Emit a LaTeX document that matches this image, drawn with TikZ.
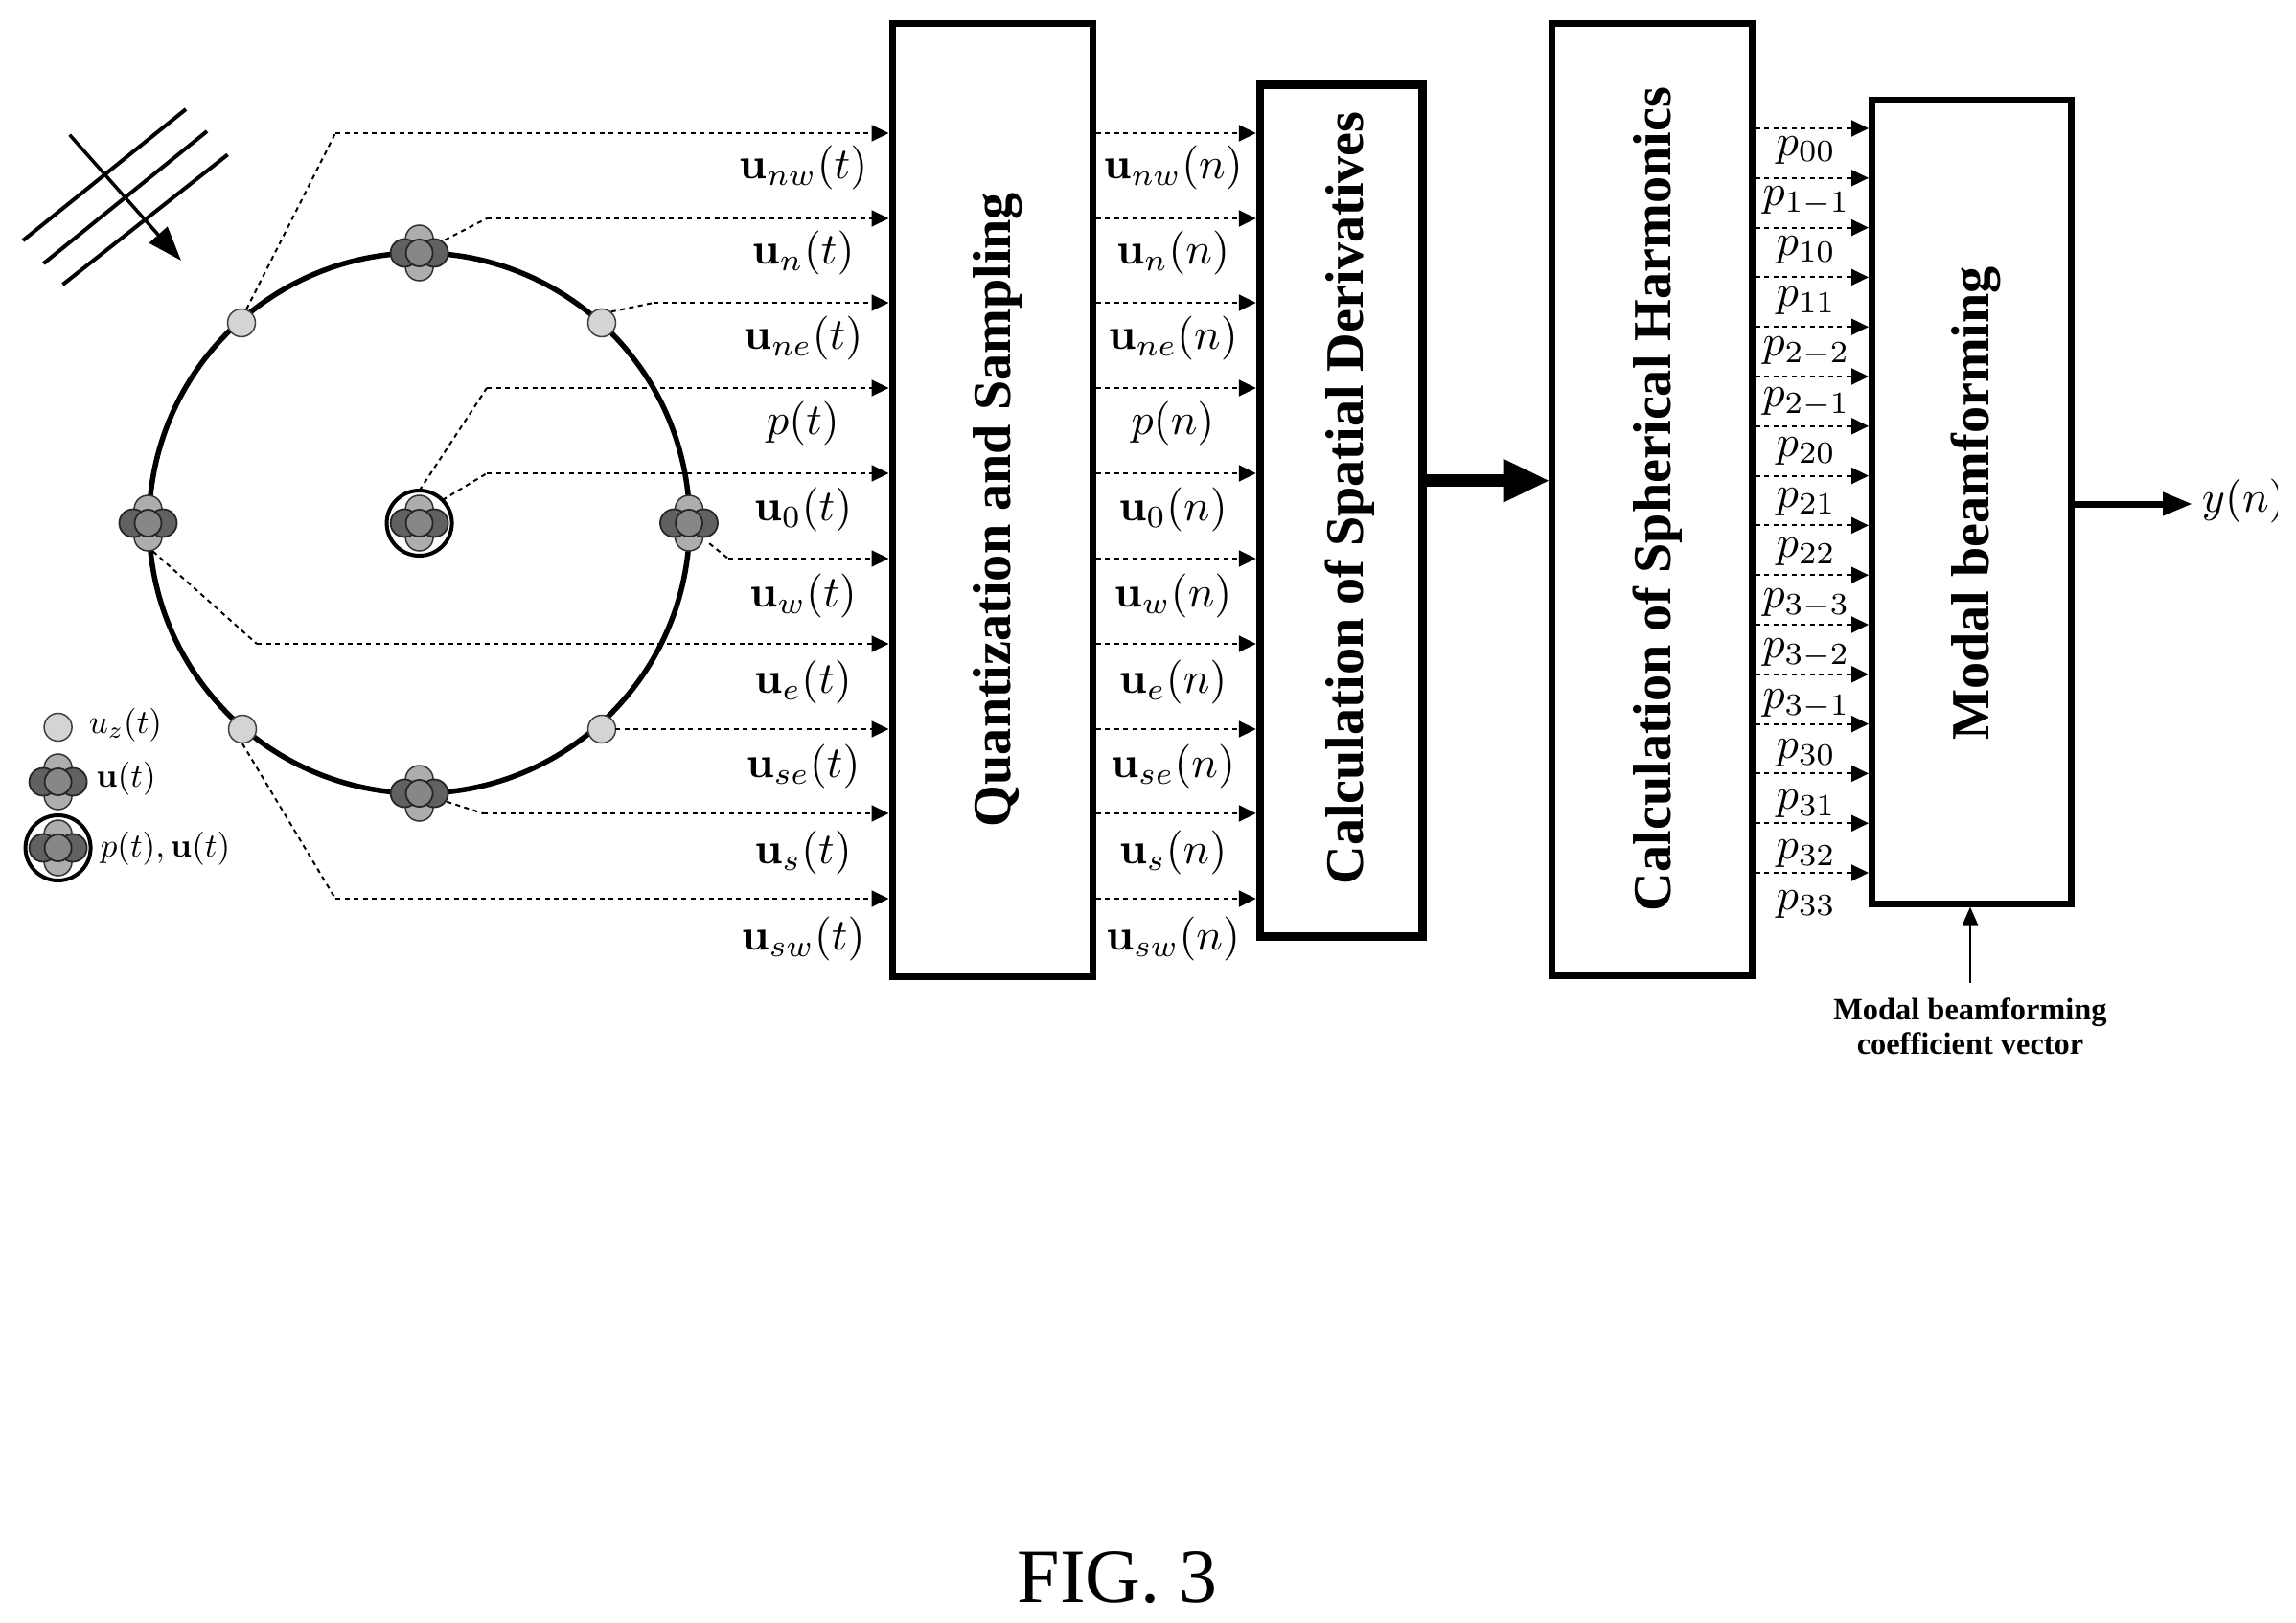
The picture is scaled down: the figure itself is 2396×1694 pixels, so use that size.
\RequirePackage{fix-cm}
\documentclass[tikz,border=0pt]{standalone}
\usepackage[no-math]{fontspec}
\usepackage{amsmath}
\usetikzlibrary{arrows.meta,calc}
\newfontfamily\timesf{Liberation Serif}
\newcommand{\blk}{\timesf\bfseries\fontsize{56.2}{60}\selectfont}
\newcommand{\sml}{\timesf\bfseries\fontsize{32.4}{36}\selectfont}
\tikzset{
  blockbox/.style={draw=black,line width=7pt,rectangle,inner sep=0pt,fill=white},
  sig/.style={line width=2pt,dash pattern=on 5pt off 4.5pt,-{Triangle[length=18pt,width=17pt]}},
  sigb/.style={line width=2pt,dash pattern=on 5pt off 4.5pt},
  txt/.style={anchor=base,inner sep=0pt,outer sep=0pt},
  lbl/.style={txt,scale=4.6},
  lgd/.style={txt,scale=3.5},
  vtxt/.style={anchor=base,rotate=90,inner sep=0pt,outer sep=0pt},
  micz/.style={circle,draw=black!75,line width=1.5pt,fill=black!17,minimum size=29pt,inner sep=0pt},
  holder/.style={circle,minimum size=60pt,inner sep=0pt,outer sep=0pt},
  ringnode/.style={circle,draw=black,line width=4pt,minimum size=68pt,inner sep=0pt,outer sep=0pt},
  petalA/.style={draw=black!80,line width=1.5pt,fill=black!32},
  petalB/.style={draw=black!85,line width=1.8pt,fill=black!62},
  petalC/.style={draw=black!85,line width=1.8pt,fill=black!47},
}
% cluster of four petals and a centre, with a named holder node
\newcommand{\micro}[3]{%
  \draw[petalA] (#2,#3-14.5) circle (14.5);
  \draw[petalA] (#2,#3+14.5) circle (14.5);
  \draw[petalB] (#2-15.5,#3) circle (14.5);
  \draw[petalB] (#2+15.5,#3) circle (14.5);
  \draw[petalC] (#2,#3) circle (14);
  \node[holder] (#1) at (#2,#3) {};
}
\begin{document}
\begin{tikzpicture}[x=1pt,y=-1pt]
\useasboundingbox (0,0) rectangle (2396,1694);
\fill[white] (0,0) rectangle (2396,1694);

% wave fronts
\coordinate (wa1) at (194,114); \coordinate (wa2) at (24,251);
\coordinate (wb1) at (216,137); \coordinate (wb2) at (45.5,275);
\coordinate (wc1) at (237.6,161.4); \coordinate (wc2) at (65.5,297);
\coordinate (da) at (72.7,140.7); \coordinate (db) at (189,272);
\draw[line width=4pt] (wa1) -- (wa2);
\draw[line width=4pt] (wb1) -- (wb2);
\draw[line width=4pt] (wc1) -- (wc2);
\draw[line width=3.5pt,-{Triangle[length=36pt,width=25pt]}] (da) -- (db);

% array circle
\node[circle,draw=black,line width=5.5pt,minimum size=564pt,inner sep=0pt] (ring) at (437.6,546) {};

% sensors
\micro{cn}{437.6}{264}
\micro{cs}{437.6}{828}
\micro{cw}{154.5}{546}
\micro{ce}{719}{546}
\micro{cc}{437.6}{546}
\node[ringnode] (cring) at (437.6,546) {};
\node[micz] (nw) at (252,337) {};
\node[micz] (ne) at (628,337) {};
\node[micz] (sw) at (253,761) {};
\node[micz] (se) at (628,761) {};

% legend
\node[micz] (lgz) at (60.6,759) {};
\micro{lgu}{60.6}{816}
\micro{lgp}{60.6}{885}
\node[ringnode] (lgr) at (60.6,885) {};
\node[lgd] (lgza) at (131,765) {\(u_z(t)\)};
\node[lgd] (lgua) at (131.5,821) {\(\mathbf{u}(t)\)};
\node[lgd] (lgpa) at (172.5,894) {\(p(t),\mathbf{u}(t)\)};

% blocks
\node[blockbox,minimum width=209pt,minimum height=994.5pt] (box1) at (1035.5,521.75) {};
\node[blockbox,line width=8.5pt,minimum width=169.5pt,minimum height=889pt] (box2) at (1399.75,533) {};
\node[blockbox,minimum width=209pt,minimum height=994pt] (box3) at (1723.5,521.5) {};
\node[blockbox,minimum width=208pt,minimum height=839pt] (box4) at (2057.5,523.5) {};

\node[vtxt] (t1) at (1054,532) {\blk Quantization and Sampling};
\node[vtxt] (t2) at (1422,520) {\blk Calculation of Spatial Derivatives};
\node[vtxt] (t3) at (1743,521) {\blk Calculation of Spherical Harmonics};
\node[vtxt] (t4) at (2075,525.5) {\blk Modal beamforming};

% elbows
\coordinate (e1) at (350,139);
\coordinate (e2) at (508,228);
\coordinate (e3) at (682,316);
\coordinate (e4) at (508,405);
\coordinate (e5) at (508,494);
\coordinate (e6) at (760,583);
\coordinate (e7) at (268,672);
\coordinate (e8) at (642,761);
\coordinate (e9) at (504,849);
\coordinate (e10) at (350,938);

\draw[sigb] (nw.70) -- (e1);
\draw[sigb] (cn.27) -- (e2);
\draw[sigb] (ne.50) -- (e3);
\draw[sigb] (cring.north) -- (e4);
\draw[sigb] (cring.45) -- (e5);
\draw[sigb] (ce.-45) -- (e6);
\draw[sigb] (cw.-80) -- (e7);
\draw[sigb] (se.east) -- (e8);
\draw[sigb] (cs.-17) -- (e9);
\draw[sigb] (sw.south) -- (e10);

\foreach \i in {1,...,10}{
  \draw[sig] (e\i) -- (e\i -| box1.west);
  \draw[sig] (e\i -| box1.east) -- (e\i -| box2.west);
}

% left labels and middle labels
\foreach \i/\s/\yy in {1/nw/186.5,2/n/275.5,3/ne/364.5,5/0/543.5,6/w/633.5,7/e/723.5,8/se/811.5,9/s/901.5,10/sw/991.5}{
  \node[lbl] (lt\i) at (838,\yy) {\(\mathbf{u}_{\s}(t)\)};
  \node[lbl] (ln\i) at (1224,\yy) {\(\mathbf{u}_{\s}(n)\)};
}
\node[lbl] (lt4) at (838,453.5) {\(p(t)\)};
\node[lbl] (ln4) at (1224,453.5) {\(p(n)\)};

% spherical-harmonic lines
\foreach \k/\s in {0/00,1/{1-1},2/10,3/11,4/{2-2},5/{2-1},6/20,7/21,8/22,9/{3-3},10/{3-2},11/{3-1},12/30,13/31,14/32,15/33}{
  \coordinate (py\k) at (1900,134+51.8*\k);
  \draw[sig] (py\k -| box3.east) -- (py\k -| box4.west);
  \node[lbl] (lp\k) at (1885,162+52.47*\k) {\(p_{\s}\)};
}

% thick arrow between blocks
\coordinate (ta) at (1500,501.7);
\draw[line width=13pt,shorten >=-2pt,-{Triangle[length=49pt,width=42pt]}] (ta -| box2.east) -- (ta -| box3.west);

% output
\begin{scope}
  \clip (2290,480) rectangle (2376,580);
  \node[anchor=base west,inner sep=0pt,scale=4.6] (yn) at (2297,534) {\(y(n)\)};
\end{scope}
\coordinate (yt) at (2288,526);
\draw[line width=7pt,-{Triangle[length=31pt,width=23pt]}] (yt -| box4.east) -- (yt);

% coefficient input
\node[txt] (c1) at (2056,1064) {\sml Modal beamforming};
\node[txt] (c2) at (2056,1100) {\sml coefficient vector};
\coordinate (cin) at (2056,1025.6);
\draw[line width=2pt,-{Triangle[length=19pt,width=16pt]}] (cin) -- (cin |- box4.south);

% caption
\node[txt] (fig) at (1166,1672) {\timesf\fontsize{80}{90}\selectfont FIG. 3};
\end{tikzpicture}
\end{document}
